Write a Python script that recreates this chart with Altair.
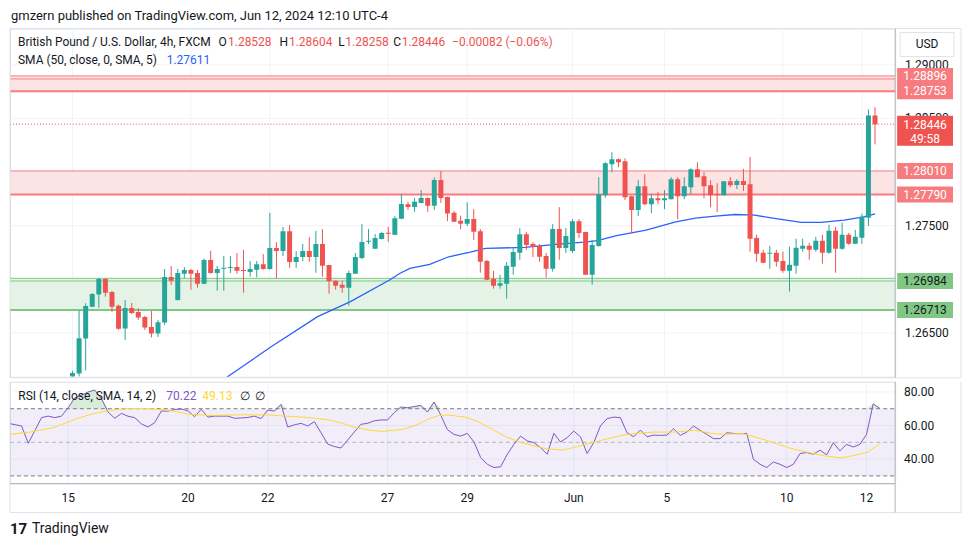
import altair as alt
import pandas as pd

# ------------------------------------------------------------------ data
# 4h GBP/USD candles, bar index 0 = first bar of May 15 (UTC-4)
opens = [1.26094, 1.26122, 1.26447, 1.26745, 1.26857, 1.27003, 1.26882, 1.26754, 1.26540, 1.26733,
         1.26696, 1.26649, 1.26556, 1.26494, 1.26596, 1.27021, 1.26807, 1.27052, 1.27087, 1.27059,
         1.26959, 1.27180, 1.27059, 1.27099, 1.27108, 1.27114, 1.27087, 1.27068, 1.27089, 1.27140,
         1.27096, 1.27291, 1.27263, 1.27449, 1.27161, 1.27207, 1.27263, 1.27207, 1.27328, 1.27133,
         1.26987, 1.26950, 1.26922, 1.27052, 1.27198, 1.27350, 1.27285, 1.27375, 1.27433, 1.27415,
         1.27564, 1.27700, 1.27675, 1.27712, 1.27759, 1.27685, 1.27926, 1.27768, 1.27620, 1.27545,
         1.27517, 1.27561, 1.27449, 1.27170, 1.27003, 1.26940, 1.26959, 1.27117, 1.27247, 1.27421,
         1.27328, 1.27310, 1.27217, 1.27099, 1.27468, 1.27291, 1.27263, 1.27542, 1.27440, 1.27043,
         1.27310, 1.27784, 1.28073, 1.28119, 1.28100, 1.27775, 1.27645, 1.27868, 1.27700, 1.27756,
         1.27738, 1.27747, 1.27933, 1.27775, 1.27859, 1.28026, 1.27961, 1.27877, 1.27793, 1.27784,
         1.27914, 1.27880, 1.27917, 1.27886, 1.27384, 1.27247, 1.27238, 1.27247, 1.27170, 1.27080,
         1.27126, 1.27285, 1.27312, 1.27275, 1.27359, 1.27247, 1.27452, 1.27285, 1.27415, 1.27331,
         1.27387, 1.27573, 1.28528]
highs = [1.26147, 1.26708, 1.26777, 1.26870, 1.27012, 1.27008, 1.26891, 1.26764, 1.26807, 1.26779,
         1.26730, 1.26659, 1.26705, 1.26621, 1.27096, 1.27124, 1.27096, 1.27114, 1.27096, 1.27087,
         1.27192, 1.27266, 1.27124, 1.27217, 1.27217, 1.27245, 1.27275, 1.27170, 1.27170, 1.27235,
         1.27620, 1.27347, 1.27489, 1.27505, 1.27263, 1.27328, 1.27393, 1.27452, 1.27468, 1.27135,
         1.26990, 1.26987, 1.27080, 1.27245, 1.27514, 1.27468, 1.27421, 1.27440, 1.27489, 1.27589,
         1.27796, 1.27722, 1.27759, 1.27833, 1.27762, 1.27949, 1.28010, 1.27771, 1.27638, 1.27593,
         1.27717, 1.27654, 1.27468, 1.27180, 1.27077, 1.27040, 1.27161, 1.27291, 1.27477, 1.27440,
         1.27347, 1.27328, 1.27245, 1.27514, 1.27672, 1.27477, 1.27561, 1.27561, 1.27443, 1.27366,
         1.27952, 1.28091, 1.28184, 1.28128, 1.28128, 1.27778, 1.27924, 1.27980, 1.27793, 1.27812,
         1.27831, 1.27952, 1.27952, 1.27952, 1.28035, 1.28091, 1.27998, 1.27924, 1.27896, 1.27916,
         1.27952, 1.27933, 1.28029, 1.28140, 1.27415, 1.27275, 1.27312, 1.27275, 1.27257, 1.27303,
         1.27378, 1.27378, 1.27340, 1.27396, 1.27415, 1.27508, 1.27489, 1.27526, 1.27433, 1.27461,
         1.27610, 1.28584, 1.28604]
lows = [1.26085, 1.26094, 1.26150, 1.26742, 1.26736, 1.26838, 1.26696, 1.26528, 1.26435, 1.26677,
        1.26621, 1.26528, 1.26457, 1.26463, 1.26575, 1.26947, 1.26800, 1.27012, 1.26903, 1.26922,
        1.26955, 1.27052, 1.26894, 1.26894, 1.27059, 1.27052, 1.26875, 1.27024, 1.27018, 1.27090,
        1.27090, 1.27006, 1.27217, 1.27108, 1.27108, 1.27170, 1.27164, 1.27061, 1.27024, 1.26866,
        1.26903, 1.26875, 1.26754, 1.27050, 1.27189, 1.27328, 1.27282, 1.27372, 1.27350, 1.27412,
        1.27560, 1.27647, 1.27629, 1.27710, 1.27629, 1.27647, 1.27712, 1.27542, 1.27533, 1.27468,
        1.27496, 1.27368, 1.27061, 1.26992, 1.26912, 1.26912, 1.26819, 1.27043, 1.27182, 1.27273,
        1.27207, 1.27164, 1.27015, 1.27071, 1.27182, 1.27245, 1.27245, 1.27384, 1.27040, 1.26950,
        1.27303, 1.27759, 1.27998, 1.28045, 1.27738, 1.27428, 1.27589, 1.27691, 1.27617, 1.27700,
        1.27654, 1.27745, 1.27561, 1.27747, 1.27793, 1.27950, 1.27756, 1.27672, 1.27626, 1.27782,
        1.27859, 1.27840, 1.27824, 1.27257, 1.27164, 1.27150, 1.27099, 1.27117, 1.27061, 1.26885,
        1.27052, 1.27257, 1.27182, 1.27257, 1.27145, 1.27238, 1.27061, 1.27275, 1.27322, 1.27328,
        1.27331, 1.27498, 1.28258]
closes = [1.26126, 1.26451, 1.26752, 1.26863, 1.27003, 1.26875, 1.26745, 1.26538, 1.26733, 1.26686,
          1.26643, 1.26550, 1.26494, 1.26600, 1.27021, 1.26987, 1.27059, 1.27087, 1.27052, 1.26959,
          1.27180, 1.27059, 1.27096, 1.27108, 1.27114, 1.27080, 1.27080, 1.27096, 1.27140, 1.27096,
          1.27291, 1.27263, 1.27449, 1.27161, 1.27207, 1.27263, 1.27207, 1.27328, 1.27126, 1.26981,
          1.26940, 1.26922, 1.27059, 1.27207, 1.27347, 1.27359, 1.27384, 1.27431, 1.27428, 1.27570,
          1.27703, 1.27675, 1.27722, 1.27759, 1.27685, 1.27926, 1.27759, 1.27614, 1.27536, 1.27517,
          1.27561, 1.27443, 1.27164, 1.26996, 1.26940, 1.26963, 1.27126, 1.27254, 1.27421, 1.27319,
          1.27300, 1.27210, 1.27099, 1.27468, 1.27291, 1.27403, 1.27542, 1.27431, 1.27043, 1.27319,
          1.27793, 1.28082, 1.28119, 1.28091, 1.27765, 1.27645, 1.27868, 1.27700, 1.27756, 1.27738,
          1.27756, 1.27933, 1.27775, 1.27868, 1.28026, 1.27952, 1.27868, 1.27784, 1.27789, 1.27914,
          1.27877, 1.27917, 1.27880, 1.27378, 1.27238, 1.27154, 1.27247, 1.27164, 1.27080, 1.27136,
          1.27294, 1.27312, 1.27275, 1.27359, 1.27247, 1.27452, 1.27285, 1.27415, 1.27331, 1.27396,
          1.27582, 1.28528, 1.28446]

# SMA(50) line, read at points along the curve (bar index, value)
sma_k = [23.3, 30.25, 37.26, 42.25, 48.2, 49.8, 51.3, 54.3, 57.2, 60.3, 62.8, 68.8, 73.8, 77.8,
         79.8, 82.7, 87.2, 91.7, 94.7, 97.7, 100.7, 103.7, 106.7, 110.8, 113.8, 117.3, 120.3, 122]
sma_v = [1.26080, 1.26373, 1.26652, 1.26792, 1.26993, 1.27056, 1.27102, 1.27139, 1.27210, 1.27251,
         1.27288, 1.27298, 1.27328, 1.27347, 1.27361, 1.27407, 1.27459, 1.27536, 1.27570, 1.27589,
         1.27604, 1.27598, 1.27567, 1.27530, 1.27530, 1.27552, 1.27582, 1.27611]

# RSI(14) per bar, starting at bar index -9
rsi_start = -9
rsi_vals = [61.3, 60.5, 59.7, 49.4, 57.0, 64.7, 65.6, 64.7, 65.6,
            70.6, 76.5, 78.0, 80.0, 81.1, 76.0, 68.0, 64.3, 67.2, 65.5,
            64.7, 61.0, 59.1, 61.7, 68.6, 68.6, 69.5, 69.8, 68.8, 65.2,
            69.6, 65.0, 65.6, 65.6, 65.6, 64.3, 64.5, 64.8, 65.6, 64.1,
            69.2, 68.6, 72.6, 59.1, 60.4, 61.3, 59.7, 62.3, 55.7, 49.0,
            47.5, 46.6, 51.3, 56.1, 60.7, 61.3, 62.8, 63.3, 63.3, 67.6,
            71.0, 70.6, 71.3, 72.0, 68.0, 74.0, 66.2, 57.5, 54.7, 53.7,
            55.3, 50.2, 40.9, 36.9, 35.0, 35.4, 42.9, 48.8, 53.7, 50.8,
            49.8, 46.8, 42.9, 55.3, 50.2, 52.8, 56.7, 53.3, 43.3, 49.8,
            59.7, 64.1, 65.0, 64.7, 55.7, 53.3, 57.3, 53.3, 54.3, 54.1,
            54.3, 58.1, 54.1, 56.1, 59.7, 57.1, 54.7, 52.2, 52.2, 55.7,
            55.3, 55.1, 55.3, 39.9, 36.9, 35.0, 38.3, 36.9, 35.0, 36.9,
            43.3, 43.9, 42.9, 45.3, 42.5, 49.8, 44.9, 48.8, 47.2, 48.8,
            54.7, 72.9, 70.22]

# RSI-based SMA(14), read at points along the curve
rsi_ma_k = [-8.75, -5.75, -2.25, -0.25, 1.75, 3.75, 6.25, 9.25, 12.25, 15.25, 18.25, 21.25, 26.25,
            30.25, 32.75, 36.25, 39.25, 41.25, 43.25, 45.25, 47.25, 50.25, 52.25, 54.25, 55.75,
            57.25, 59.75, 61.75, 63.75, 65.75, 67.75, 69.75, 71.75, 74.25, 75.25, 78.25, 80.75,
            83.25, 85.25, 88.25, 91.25, 94.25, 96.75, 98.75, 101.25, 102.25, 105.25, 108.25,
            111.25, 113.75, 116.25, 118.25, 120.25, 122]
rsi_ma_v = [54.7, 56.1, 58.7, 61.7, 64.7, 67.0, 69.0, 70.2, 70.0, 69.0, 66.6, 66.0, 66.4,
            66.2, 65.6, 64.7, 63.3, 61.3, 58.7, 57.3, 56.5, 57.7, 60.1, 64.1, 66.0,
            66.2, 65.0, 62.1, 57.7, 53.4, 50.2, 48.2, 46.2, 45.4, 46.2, 49.2, 51.8,
            54.2, 55.3, 56.1, 56.1, 57.1, 55.3, 54.7, 55.3, 54.3, 50.8, 46.8,
            43.9, 41.9, 40.7, 42.3, 44.3, 49.13]

# Support / resistance zones and price tags
res_zone_lo = [1.28753, 1.27790]
res_zone_hi = [1.28896, 1.28010]
sup_zone_lo = [1.26713]
sup_zone_hi = [1.27009]
res_tags = [1.28896, 1.28753, 1.28010, 1.27790]
sup_tags = [1.26984, 1.26713]
thin_res_lines = [1.28896, 1.28868, 1.28010]
thick_res_lines = [1.28753, 1.27790]
thin_sup_lines = [1.27009, 1.26984]
thick_sup_lines = [1.26713]
countdown = "49:58"

price_ticks = [1.265, 1.270, 1.275, 1.280, 1.285, 1.290]
rsi_ticks = [40, 60, 80]
rsi_bands = [30, 50, 70]
day_ticks = [0, 18, 30, 48, 60, 76, 90, 108, 120]
day_labels = ["15", "20", "22", "27", "29", "Jun", "5", "10", "12"]

# ------------------------------------------------------------------ layout
FONT = "Roboto"
W, HM, HR = 887, 349, 102
X_DOM = [-8.745, 124.30]
Y_DOM = [1.26091, 1.29338]
R_DOM = [25.44, 86.04]
GREEN, RED = "#26a69a", "#ef5350"
TXT = "#131722"
GRID = "#f0f3fa"
FRAME = "#e0e3eb"
SEP = "#b2b5be"
TAG_X = 917

n = len(opens)
cdf = pd.DataFrame({"k": list(range(n)), "o": opens, "h": highs, "l": lows, "c": closes})
cdf["dir"] = ["up" if c >= o else "down" for o, c in zip(opens, closes)]
sma_df = pd.DataFrame({"k": sma_k, "v": sma_v})
rsi_df = pd.DataFrame({"k": list(range(rsi_start, rsi_start + len(rsi_vals))), "v": rsi_vals})
rma_df = pd.DataFrame({"k": rsi_ma_k, "v": rsi_ma_v})
one = pd.DataFrame({"z": [0]})
days_df = pd.DataFrame({"k": day_ticks, "lab": day_labels})

xs = alt.Scale(domain=X_DOM, nice=False, zero=False)
ys = alt.Scale(domain=Y_DOM, nice=False, zero=False)
rs = alt.Scale(domain=R_DOM, nice=False, zero=False)

X = alt.X("k:Q", scale=xs, axis=None)
color_dir = alt.Color("dir:N", scale=alt.Scale(domain=["up", "down"], range=[GREEN, RED]), legend=None)


def Yp(field):
    return alt.Y(field, scale=ys, axis=None)


def Yr(field):
    return alt.Y(field, scale=rs, axis=None)


def txt(text, x, y, color=TXT, size=12, align="left", weight="normal"):
    return alt.Chart(one).mark_text(text=text, x=x, y=y, color=color, fontSize=size, align=align,
                                    baseline="middle", font=FONT, fontWeight=weight)


def hrule(x1, x2, y, color=FRAME, width=1):
    return alt.Chart(one).mark_rule(color=color, strokeWidth=width).encode(
        x=alt.value(x1), x2=alt.value(x2), y=alt.value(y))


def vrule(x, y1, y2, color=FRAME, width=1):
    return alt.Chart(one).mark_rule(color=color, strokeWidth=width).encode(
        x=alt.value(x), y=alt.value(y1), y2=alt.value(y2))


def level_rules(levels, color, width, Y=Yp):
    return alt.Chart(pd.DataFrame({"p": levels})).mark_rule(color=color, strokeWidth=width).encode(
        x=alt.value(0), x2=alt.value(W), y=Y("p:Q"))


def day_grid(h):
    return alt.Chart(days_df).mark_rule(color=GRID, strokeWidth=1).encode(
        x=X, y=alt.value(0), y2=alt.value(h))


def zone(lo, hi, color):
    return alt.Chart(pd.DataFrame({"lo": lo, "hi": hi})).mark_rect(color=color).encode(
        x=alt.value(0), x2=alt.value(W), y=Yp("lo:Q"), y2="hi:Q")


def rect_path(half_h):
    return f"M-1,-{half_h}L1,-{half_h}L1,{half_h}L-1,{half_h}Z"


def tags(prices, bg, fg):
    d = pd.DataFrame({"p": prices})
    box = alt.Chart(d).mark_point(shape=rect_path(0.2857), size=56 * 56, filled=True, opacity=1,
                                  color=bg, strokeWidth=0).encode(x=alt.value(TAG_X), y=Yp("p:Q"))
    lab = alt.Chart(d).mark_text(font=FONT, fontSize=12, color=fg, align="center", baseline="middle").encode(
        x=alt.value(TAG_X), y=Yp("p:Q"), text=alt.Text("p:Q", format=".5f"))
    return box + lab


def axis_labels(values, fmt, Y, x):
    return alt.Chart(pd.DataFrame({"p": values})).mark_text(
        font=FONT, fontSize=12, color=TXT, align="left", baseline="middle").encode(
        x=alt.value(x), y=Y("p:Q"), text=alt.Text("p:Q", format=fmt))


# ---------------- main price pane
wicks = alt.Chart(cdf).mark_rule(strokeWidth=1, clip=True).encode(
    x=X, y=Yp("l:Q"), y2="h:Q", color=color_dir)
bodies = alt.Chart(cdf).transform_calculate(
    bt="max(datum.o, datum.c)", bb0="min(datum.o, datum.c)"
).transform_calculate(
    bb="datum.bt - datum.bb0 < 0.00009 ? datum.bt - 0.00009 : datum.bb0"
).mark_bar(width=5, clip=True).encode(x=X, y=Yp("bt:Q"), y2="bb:Q", color=color_dir)

sma_line = alt.Chart(sma_df).mark_line(color="#2962ff", strokeWidth=1.3, clip=True).encode(
    x=X, y=Yp("v:Q"))

last_close = closes[-1]
cur_df = pd.DataFrame({"p": [last_close]})
cur_line = alt.Chart(cur_df).mark_rule(color=RED, strokeWidth=1, strokeDash=[1, 2]).encode(
    x=alt.value(0), x2=alt.value(W), y=Yp("p:Q"))
cur_box = alt.Chart(cur_df).mark_point(shape=rect_path(0.5357), size=56 * 56, filled=True, opacity=1,
                                       color=RED, strokeWidth=0, yOffset=6.5).encode(
    x=alt.value(TAG_X), y=Yp("p:Q"))
cur_txt = alt.Chart(cur_df).mark_text(font=FONT, fontSize=12, color="white", align="center",
                                      baseline="middle", yOffset=0.5).encode(
    x=alt.value(TAG_X), y=Yp("p:Q"), text=alt.Text("p:Q", format=".5f"))
cur_cd = alt.Chart(cur_df).mark_text(font=FONT, fontSize=12, color="white", align="center",
                                     baseline="middle", yOffset=14.5, text=countdown).encode(
    x=alt.value(TAG_X), y=Yp("p:Q"))

usd_box = alt.Chart(one).mark_point(shape=rect_path(0.444), size=54 * 54, filled=True, opacity=1,
                                    fill="white", stroke=FRAME, strokeWidth=1).encode(
    x=alt.value(919), y=alt.value(16))

chg = closes[-1] - closes[-2]
pct = chg / closes[-2] * 100
chg_txt = f"{chg:+.5f} ({pct:+.2f}%)".replace("-", "\u2212")

legend_main = [
    txt("gmzern published on TradingView.com, Jun 12, 2024 12:10 UTC-4", 1, -13, size=13),
    txt("British Pound / U.S. Dollar, 4h, FXCM", 8, 14),
    txt("O", 209, 14), txt(f"{opens[-1]:.5f}", 218.5, 14, color=RED),
    txt("H", 270, 14), txt(f"{highs[-1]:.5f}", 279.5, 14, color=RED),
    txt("L", 329, 14), txt(f"{lows[-1]:.5f}", 336, 14, color=RED),
    txt("C", 384, 14), txt(f"{closes[-1]:.5f}", 392.5, 14, color=RED),
    txt(chg_txt, 443, 14, color=RED),
    txt("SMA (50, close, 0, SMA, 5)", 8, 31.5),
    txt(f"{sma_v[-1]:.5f}", 157, 31.5, color="#2962ff"),
    txt("USD", 919, 16, align="center"),
]

main = alt.layer(
    day_grid(HM),
    level_rules(price_ticks, GRID, 1),
    zone(res_zone_lo, res_zone_hi, "#fce3e4"),
    zone(sup_zone_lo, sup_zone_hi, "#e5f3e6"),
    level_rules(thin_res_lines, "#f77c80", 1),
    level_rules(thick_res_lines, "#f77c80", 2),
    level_rules(thin_sup_lines, "#81c784", 1),
    level_rules(thick_sup_lines, "#81c784", 2),
    sma_line, wicks, bodies, cur_line,
    axis_labels(price_ticks, ".5f", Yp, W + 10),
    tags(res_tags, "#f77c80", "white"),
    tags(sup_tags, "#81c784", TXT),
    cur_box, cur_txt, cur_cd, usd_box,
    hrule(0, 953, 0), vrule(0, 0, HM + 1), vrule(953, 0, HM + 1), hrule(0, 953, HM + 1),
    vrule(W, 0, HM + 1, color=SEP),
    *legend_main,
).properties(width=W, height=HM)

# ---------------- RSI pane
band = alt.Chart(pd.DataFrame({"lo": [rsi_bands[0]], "hi": [rsi_bands[2]]})).mark_rect(
    color="#7e57c2", opacity=0.1).encode(x=alt.value(0), x2=alt.value(W), y=Yr("lo:Q"), y2="hi:Q")
outer_lines = alt.Chart(pd.DataFrame({"p": [rsi_bands[0], rsi_bands[2]]})).mark_rule(
    color="#787b86", strokeDash=[4, 3]).encode(x=alt.value(0), x2=alt.value(W), y=Yr("p:Q"))
mid_line = alt.Chart(pd.DataFrame({"p": [rsi_bands[1]]})).mark_rule(
    color="#b2b5be", strokeDash=[4, 3]).encode(x=alt.value(0), x2=alt.value(W), y=Yr("p:Q"))
ob_fill = alt.Chart(rsi_df).transform_calculate(
    top=f"max(datum.v, {rsi_bands[2]})", base=f"{rsi_bands[2]}"
).mark_area(color="#4caf50", opacity=0.22, clip=True).encode(x=X, y=Yr("top:Q"), y2="base:Q")
rsi_line = alt.Chart(rsi_df).mark_line(color="#7e57c2", strokeWidth=1, clip=True).encode(x=X, y=Yr("v:Q"))
rma_line = alt.Chart(rma_df).mark_line(color="#fdd835", strokeWidth=1, clip=True).encode(x=X, y=Yr("v:Q"))

day_text = alt.Chart(days_df).mark_text(font=FONT, fontSize=12, color=TXT, align="center",
                                        baseline="middle").encode(x=X, y=alt.value(HR + 14), text="lab:N")

legend_rsi = [
    txt("RSI (14, close, SMA, 14, 2)", 8.3, 14),
    txt(f"{rsi_vals[-1]:.2f}", 156.7, 14, color="#7e57c2"),
    txt(f"{rsi_ma_v[-1]:.2f}", 192.7, 14, color="#fdd835"),
    txt("\u2205", 230, 14), txt("\u2205", 245.7, 14),
    txt("17", 0, 148, size=15, weight="bold"),
    txt("TradingView", 22, 148, size=14),
]

rsi = alt.layer(
    day_grid(HR),
    level_rules(rsi_ticks, GRID, 1, Y=Yr),
    band, outer_lines, mid_line, ob_fill, rsi_line, rma_line, day_text,
    axis_labels(rsi_ticks, ".2f", Yr, W + 9),
    vrule(0, 0, 131), vrule(953, 0, 131), hrule(0, 953, 131),
    hrule(0, W, HR, color=SEP), vrule(W, 0, 131, color=SEP),
    *legend_rsi,
).properties(width=W, height=HR)

chart = alt.vconcat(main, rsi, spacing=2).resolve_scale(x="independent").properties(
    padding={"left": 0, "top": 0, "right": 0, "bottom": 0}
).configure_view(strokeWidth=0).configure(font=FONT, background="white")

chart.save("out.html", embed_options={"renderer": "svg", "actions": False})
